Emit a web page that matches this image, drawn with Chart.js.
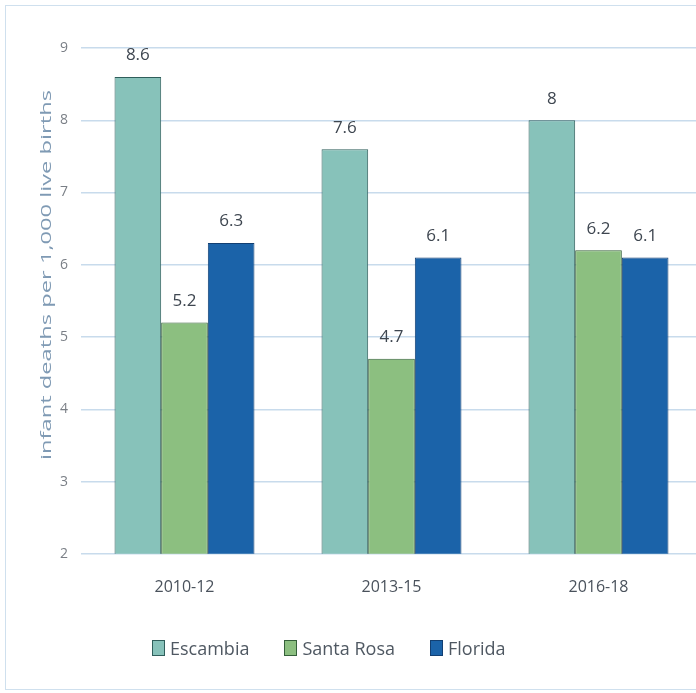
<!DOCTYPE html>
<html>
<head>
<meta charset="utf-8">
<script src="https://cdn.jsdelivr.net/npm/chart.js@4"></script>
<style>
  html, body { margin: 0; padding: 0; background: #fff; overflow: hidden; }
  #wrap { position: relative; width: 696px; height: 693px; }
  #frame { position: absolute; left: 5px; top: 5px; width: 700px; height: 685px; border: 1px solid #cfe0ee; box-sizing: border-box; }
  #box { position: absolute; left: 0; top: 0; width: 712px; height: 637px; }
  #legend { position: absolute; left: 152px; top: 636px; font-family: 'Open Sans', sans-serif; font-size: 18px; line-height: 24px; color: #4f5862; display: flex; }
  #legend span.item { display: flex; align-items: center; margin-right: 35px; }
  #legend span.sw { display: inline-block; width: 13px; height: 16px; margin-right: 5px; box-sizing: border-box; border: 1px solid #333; }
</style>
</head>
<body>
<div id="wrap">
  <div id="frame"></div>
  <div id="box"><canvas id="chartCanvas"></canvas></div>
  <div id="legend"></div>
</div>
<script>
// 数据
const periods = ["2010-12", "2013-15", "2016-18"];
const seriesNames = ["Escambia", "Santa Rosa", "Florida"];
const escambia = [8.6, 7.6, 8];
const santaRosa = [5.2, 4.7, 6.2];
const florida = [6.3, 6.1, 6.1];
const yTicks = [2, 3, 4, 5, 6, 7, 8, 9];
const yTitle = "infant deaths per 1,000 live births";

const fillColors = ["#87c2ba", "#8cbf80", "#1b63a9"];
const edgeColors = ["#2f5e5b", "#35603a", "#123f72"];
const fontName = "'Open Sans', sans-serif";

// 柱顶数值
const valueLabels = {
  id: "valueLabels",
  afterDatasetsDraw(chart) {
    const ctx = chart.ctx;
    ctx.save();
    ctx.font = "17px " + fontName;
    ctx.fillStyle = "#3e4650";
    ctx.textAlign = "center";
    ctx.textBaseline = "bottom";
    chart.data.datasets.forEach((ds, i) => {
      chart.getDatasetMeta(i).data.forEach((bar, j) => {
        ctx.fillText(String(ds.data[j]), bar.x, bar.y - 13);
      });
    });
    ctx.restore();
  }
};

// 纵轴标题（原图被拉长了，这里也拉长一点）
const stretchedTitle = {
  id: "stretchedTitle",
  afterDraw(chart) {
    const ctx = chart.ctx;
    ctx.save();
    ctx.translate(47, 275);
    ctx.rotate(-Math.PI / 2);
    ctx.scale(1.58, 1);
    ctx.font = "15px " + fontName;
    ctx.fillStyle = "#7f9ab4";
    ctx.textAlign = "center";
    ctx.textBaseline = "middle";
    ctx.fillText(yTitle, 0, 0);
    ctx.restore();
  }
};

const allData = [escambia, santaRosa, florida];

new Chart(document.getElementById("chartCanvas"), {
  type: "bar",
  data: {
    labels: periods,
    datasets: seriesNames.map((name, i) => ({
      label: name,
      data: allData[i],
      backgroundColor: fillColors[i],
      borderColor: edgeColors[i],
      borderWidth: 1,
      barPercentage: 1,
      categoryPercentage: 0.676
    }))
  },
  options: {
    responsive: true,
    maintainAspectRatio: false,
    animation: false,
    layout: { padding: { left: 31, right: 10, top: 48, bottom: 16 } },
    plugins: {
      legend: { display: false },
      tooltip: { enabled: false }
    },
    scales: {
      x: {
        grid: { display: false, drawTicks: false },
        border: { display: false },
        ticks: { font: { family: fontName, size: 16 }, color: "#4a525c", padding: 24 }
      },
      y: {
        min: 2,
        max: 9,
        afterBuildTicks: axis => { axis.ticks = yTicks.map(v => ({ value: v })); },
        afterFit: axis => { axis.width = 50; },
        grid: { color: "#c8dbec", lineWidth: 1.5, drawTicks: false },
        border: { display: false },
        ticks: { font: { family: fontName, size: 14 }, color: "#7a7f86", padding: 13 }
      }
    }
  },
  plugins: [valueLabels, stretchedTitle]
});

// 图例
document.getElementById("legend").innerHTML = seriesNames.map((name, i) =>
  `<span class="item"><span class="sw" style="background:${fillColors[i]};border-color:${edgeColors[i]}"></span>${name}</span>`
).join("");
</script>
</body>
</html>
